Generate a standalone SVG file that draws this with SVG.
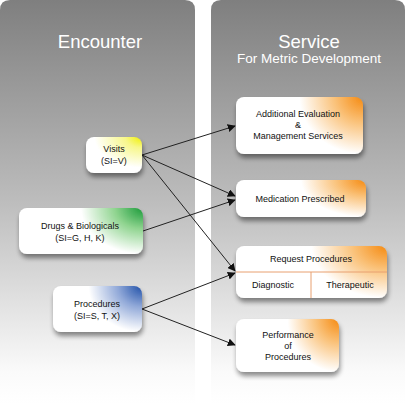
<svg xmlns="http://www.w3.org/2000/svg" width="405" height="404" viewBox="0 0 405 404">
<defs>
<linearGradient id="panel" x1="0" y1="0" x2="0" y2="404" gradientUnits="userSpaceOnUse">
<stop offset="0" stop-color="#7f7f7f"/>
<stop offset="0.5" stop-color="#bdbdbd"/>
<stop offset="0.92" stop-color="#fafafa"/>
<stop offset="1" stop-color="#ffffff"/>
</linearGradient>
<radialGradient id="gY" cx="1" cy="0" r="0.85">
<stop offset="0" stop-color="#f0f000"/>
<stop offset="0.35" stop-color="#f7f78a"/>
<stop offset="1" stop-color="#ffffff"/>
</radialGradient>
<radialGradient id="gG" cx="1" cy="0" r="1" gradientTransform="translate(1 0) scale(0.5 1) translate(-1 0)">
<stop offset="0" stop-color="#1a9a3a"/>
<stop offset="0.45" stop-color="#8fd48f"/>
<stop offset="1" stop-color="#ffffff"/>
</radialGradient>
<radialGradient id="gB" cx="1" cy="0" r="1" gradientTransform="translate(1 0) scale(0.6 1) translate(-1 0)">
<stop offset="0" stop-color="#2050a8"/>
<stop offset="0.45" stop-color="#90a8d8"/>
<stop offset="1" stop-color="#ffffff"/>
</radialGradient>
<radialGradient id="gO" cx="1" cy="0" r="1" gradientTransform="translate(1 0) scale(0.5 1) translate(-1 0)">
<stop offset="0" stop-color="#f58a10"/>
<stop offset="0.45" stop-color="#fac27a"/>
<stop offset="1" stop-color="#ffffff"/>
</radialGradient>
<filter id="sh" x="-20%" y="-20%" width="140%" height="160%">
<feGaussianBlur in="SourceAlpha" stdDeviation="2.5"/>
<feOffset dx="1" dy="4" result="b"/>
<feComponentTransfer><feFuncA type="linear" slope="0.45"/></feComponentTransfer>
<feMerge><feMergeNode/><feMergeNode in="SourceGraphic"/></feMerge>
</filter>
<marker id="arr" viewBox="0 0 10 10" refX="9" refY="5" markerWidth="8" markerHeight="8" markerUnits="userSpaceOnUse" orient="auto">
<path d="M0,0 L10,5 L0,10 z" fill="#111"/>
</marker>
</defs>
<style>
.t{font-family:"Liberation Sans",Arial,sans-serif;fill:#111;text-anchor:middle;font-size:9px}
.h{font-family:"Liberation Sans",Arial,sans-serif;fill:#ffffff;text-anchor:middle}
.c{stroke:#222;stroke-width:1;fill:none;marker-end:url(#arr)}
</style>
<rect width="405" height="404" fill="#ffffff"/>
<g id="panel-encounter">
<path d="M0,10 Q0,0 10,0 L185,0 Q195,0 195,10 L195,404 L0,404 z" fill="url(#panel)"/>
<text class="h" x="100" y="48" font-size="18.5">Encounter</text>
</g>
<g id="panel-service">
<path d="M211,10 Q211,0 221,0 L395,0 Q405,0 405,10 L405,404 L211,404 z" fill="url(#panel)"/>
<text class="h" x="309" y="48" font-size="18.5">Service</text>
<text class="h" x="309" y="63" font-size="13.5">For Metric Development</text>
</g>
<g id="connectors">
<line class="c" x1="142" y1="155" x2="235" y2="126"/>
<line class="c" x1="142" y1="155" x2="235" y2="196"/>
<line class="c" x1="142" y1="155" x2="235" y2="271"/>
<line class="c" x1="143" y1="231" x2="235" y2="200"/>
<line class="c" x1="142" y1="309" x2="235" y2="273"/>
<line class="c" x1="142" y1="309" x2="235" y2="345"/>
</g>
<g id="visits">
<rect x="86" y="137" width="56" height="36" rx="8" fill="url(#gY)" filter="url(#sh)"/>
<text class="t" x="114" y="152">Visits</text>
<text class="t" x="114" y="164">(SI=V)</text>
</g>
<g id="drugs">
<rect x="19" y="208" width="124" height="46" rx="8" fill="url(#gG)" filter="url(#sh)"/>
<text class="t" x="80" y="229">Drugs &amp; Biologicals</text>
<text class="t" x="80" y="241">(SI=G, H, K)</text>
</g>
<g id="procedures">
<rect x="53" y="286" width="89" height="46" rx="8" fill="url(#gB)" filter="url(#sh)"/>
<text class="t" x="97" y="307">Procedures</text>
<text class="t" x="97" y="319">(SI=S, T, X)</text>
</g>
<g id="additional">
<rect x="236" y="97" width="127" height="57" rx="8" fill="url(#gO)" filter="url(#sh)"/>
<text class="t" x="298" y="117">Additional Evaluation</text>
<text class="t" x="298" y="128">&amp;</text>
<text class="t" x="298" y="139">Management Services</text>
</g>
<g id="medication">
<rect x="236" y="180" width="130" height="37" rx="8" fill="url(#gO)" filter="url(#sh)"/>
<text class="t" x="300" y="202">Medication Prescribed</text>
</g>
<g id="request">
<rect x="236" y="246" width="151" height="52" rx="8" fill="url(#gO)" filter="url(#sh)"/>
<line x1="236" y1="272" x2="387" y2="272" stroke="#e8a070" stroke-width="1"/>
<line x1="311" y1="272" x2="311" y2="298" stroke="#e8a070" stroke-width="1"/>
<text class="t" x="311" y="262">Request Procedures</text>
<text class="t" x="273" y="288">Diagnostic</text>
<text class="t" x="350" y="288">Therapeutic</text>
</g>
<g id="performance">
<rect x="236" y="319" width="103" height="53" rx="8" fill="url(#gO)" filter="url(#sh)"/>
<text class="t" x="288" y="338">Performance</text>
<text class="t" x="288" y="349">of</text>
<text class="t" x="288" y="360">Procedures</text>
</g>
</svg>
